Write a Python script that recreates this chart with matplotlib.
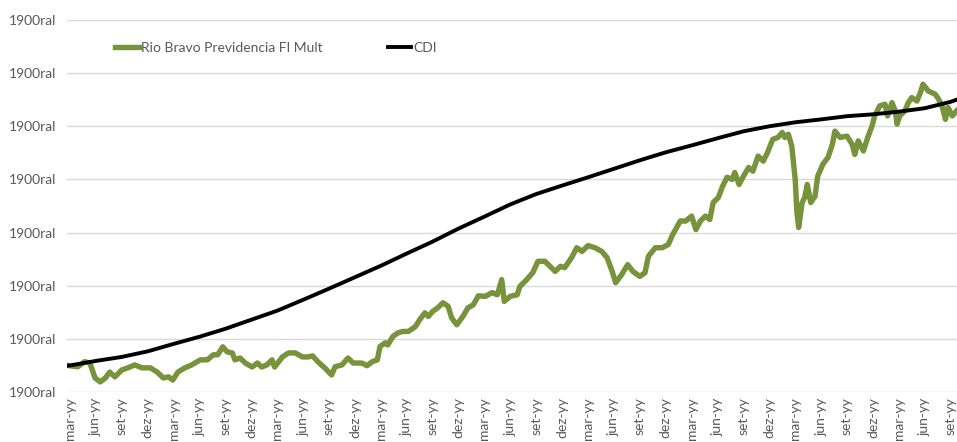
import numpy as np
import matplotlib
matplotlib.use("Agg")
import matplotlib.pyplot as plt

plt.rcParams['font.family'] = ['Lato', 'DejaVu Sans']

# eixo x em meses a partir do primeiro rótulo (mar)
fundo_mes = [-0.3, 0.9, 1.7, 2.3, 2.9, 3.5, 4.1, 4.6, 5.2, 6.0, 6.7, 7.5, 8.3, 9.3, 10.1, 10.8, 11.4, 11.9,
             12.5, 13.3, 14.1, 15.1, 15.9, 16.6, 17.1, 17.7, 18.2, 18.8, 19.1, 19.7, 20.3, 21.1, 21.7, 22.2,
             22.8, 23.4, 23.7, 24.6, 25.3, 26.1, 26.9, 27.6, 28.1, 28.7, 29.5, 30.3, 30.7, 31.5, 32.2, 32.8,
             33.8, 34.4, 35.0, 35.6, 35.9, 36.5, 36.8, 37.4, 38.0, 38.6, 39.2, 40.0, 40.5, 41.1, 41.5, 42.0,
             42.6, 43.2, 43.8, 44.2, 44.8, 45.5, 46.1, 46.7, 47.3, 48.1, 48.9, 49.5, 50.0, 50.3, 51.0, 51.8,
             52.1, 52.9, 53.6, 54.2, 55.0, 56.2, 56.8, 57.3, 58.1, 58.7, 59.3, 60.0, 60.8, 61.6, 62.2, 62.8,
             63.2, 63.9, 64.6, 65.2, 66.0, 66.6, 67.0, 67.8, 68.6, 69.3, 69.8, 70.7, 71.3, 72.0, 72.5, 73.0,
             73.6, 74.1, 74.5, 75.1, 75.6, 76.1, 76.7, 77.0, 77.5, 78.0, 78.6, 79.1, 79.7, 80.3, 80.8, 81.4,
             82.0, 82.5, 82.8, 83.2, 83.6, 84.0, 84.2, 84.4, 84.8, 85.1, 85.4, 85.8, 86.3, 86.6, 87.2, 87.8,
             88.3, 88.6, 89.2, 90.0, 90.6, 90.9, 91.3, 91.9, 92.4, 92.9, 93.2, 93.8, 94.4, 94.7, 95.2, 95.6,
             95.8, 96.1, 96.7, 97.1, 97.5, 98.1, 98.5, 98.8, 99.4, 100.2, 100.5, 101.0, 101.4, 101.7, 102.2, 102.7]
fundo_valor = [100.0, 99.5, 101.4, 100.9, 95.3, 93.8, 95.3, 97.5, 95.7, 98.3, 99.1, 100.2, 99.1, 99.1, 97.5, 95.3, 95.7, 94.5,
               97.5, 99.1, 100.2, 102.1, 102.1, 104.0, 104.0, 107.0, 105.1, 104.7, 102.1, 102.8, 100.9, 99.4, 100.9, 99.4,
               100.2, 102.1, 99.4, 103.2, 104.7, 104.7, 103.2, 103.2, 103.6, 101.4, 99.1, 96.4, 99.5, 100.2, 102.8, 100.9,
               100.9, 99.9, 101.4, 102.1, 107.1, 108.5, 107.7, 110.9, 112.3, 112.8, 112.8, 114.6, 117.2, 119.8, 118.4, 120.3,
               121.7, 123.6, 122.2, 117.9, 115.3, 118.4, 121.7, 122.8, 126.2, 126.0, 127.4, 126.6, 132.3, 124.1, 126.0, 126.6,
               129.7, 132.3, 134.9, 139.2, 139.2, 135.4, 137.3, 136.8, 140.6, 144.3, 142.9, 145.1, 144.3, 142.9, 140.6, 135.4,
               131.1, 134.2, 137.9, 135.4, 133.5, 134.9, 141.1, 144.3, 144.3, 145.5, 149.2, 154.4, 154.3, 156.2, 151.1, 154.3,
               156.2, 154.9, 161.3, 163.2, 167.5, 170.8, 170.0, 172.6, 168.1, 171.2, 174.5, 173.1, 178.8, 176.9, 180.2, 185.1,
               185.8, 187.7, 185.8, 187.0, 182.6, 170.0, 157.5, 151.9, 161.3, 163.2, 168.1, 161.3, 163.7, 171.2, 175.7, 178.3,
               183.2, 188.2, 185.8, 186.3, 183.2, 179.4, 184.5, 180.7, 185.8, 190.1, 193.9, 197.7, 198.3, 193.9, 198.9, 195.8,
               190.8, 193.9, 195.8, 198.9, 200.8, 199.5, 202.7, 205.8, 203.3, 202.1, 200.8, 197.7, 192.6, 197.1, 193.9, 195.8]

cdi_mes = [-0.3, 0, 3, 6, 9, 12, 15, 18, 21, 24, 27, 30, 33, 36, 39, 42, 45, 48, 51, 54, 57, 60,
           63, 66, 69, 72, 75, 78, 81, 84, 87, 90, 93, 96, 99, 102, 102.7]
cdi_valor = [99.9, 100.0, 101.7, 103.2, 105.3, 108.1, 110.8, 113.8, 117.2, 120.6, 124.7, 128.9, 133.2, 137.5,
             142.1, 146.6, 151.5, 156.0, 160.6, 164.5, 167.7, 170.8, 174.0, 177.2, 180.2, 182.8, 185.5, 188.1,
             190.0, 191.5, 192.6, 193.8, 194.5, 195.5, 196.8, 199.2, 200.0]

rotulos_x = ['mar-yy', 'jun-yy', 'set-yy', 'dez-yy'] * 8 + ['mar-yy', 'jun-yy', 'set-yy']
ticks_y = [90, 110, 130, 150, 170, 190, 210, 230]

fig = plt.figure(figsize=(9.57, 4.42), dpi=100)
ax = fig.add_axes([67 / 957, 50 / 442, 890 / 957, 372 / 442])

ax.plot(fundo_mes, fundo_valor, color='#77933C', lw=3.9, label='Rio Bravo Previdencia FI Mult', solid_joinstyle='round')
ax.plot(cdi_mes, cdi_valor, color='black', lw=2.8, label='CDI')

ax.set_xlim(-0.35, 102.74)
ax.set_ylim(90, 230)
ax.set_yticks(ticks_y)
ax.set_yticklabels(['1900ral'] * len(ticks_y))
ax.set_xticks(np.arange(0, 3 * len(rotulos_x), 3))
ax.set_xticklabels(rotulos_x, rotation=90, va='top', ha='center')
ax.tick_params(axis='both', length=0, colors='#595959', labelsize=10)
ax.tick_params(axis='y', pad=7.5)
ax.tick_params(axis='x', pad=4)
ax.grid(axis='y', color='#D9D9D9', lw=1)
ax.set_axisbelow(True)
for s in ax.spines.values():
    s.set_visible(False)

leg = fig.legend(loc='center left', bbox_to_anchor=(115 / 957, 394 / 442), ncol=2, frameon=False,
                 fontsize=10, handlelength=1.7, handletextpad=0.15, columnspacing=4.7,
                 borderpad=0, borderaxespad=0)
for t in leg.get_texts():
    t.set_color('#595959')

fig.savefig('out.png', dpi=100)
